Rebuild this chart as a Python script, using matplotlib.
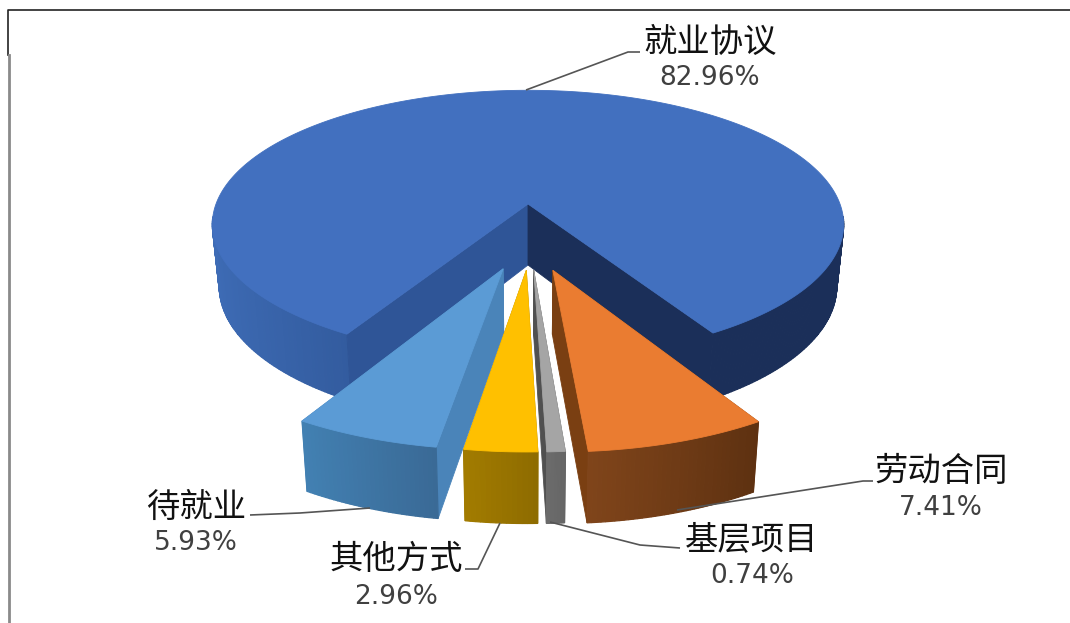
import numpy as np
import matplotlib
matplotlib.use("Agg")
import matplotlib.pyplot as plt
from matplotlib.colors import to_rgb
from matplotlib.patches import Polygon

categories = ["就业协议", "劳动合同", "基层项目", "其他方式", "待就业"]
shares = [82.96, 7.41, 0.74, 2.96, 5.93]

top_colors = ["#4270BF", "#EA7C31", "#A5A5A5", "#FFC000", "#5B9BD5"]
wall_left = ["#2F5597", "#7F441A", "#6B6B6B", "#A27B00", "#4280B2"]
wall_right = ["#1B2F59", "#5E3111", "#666666", "#8E6C00", "#3A6A96"]
inner_left = ["#2F5597", "#7A3F12", "#505050", "#A27B00", "#4A84B9"]
inner_right = ["#1B2F59", "#7A3F12", "#505050", "#A27B00", "#4A84B9"]
offset_u = [0.0, 0.074, 0.017, -0.005, -0.074]
offset_w = [0.0, 0.47, 0.47, 0.47, 0.46]
draw_order = [0, 4, 3, 2, 1]

label_pos = [(710, 42, 78), (941, 472, 508), (752, 540, 576), (396, 559, 597), (196, 507, 543)]
leaders = [
    [(526, 90), (628, 52), (640, 52)],
    [(677, 510), (863, 481), (873, 481)],
    [(550, 522), (640, 545), (680, 548)],
    [(500, 523), (478, 569), (465, 569)],
    [(370, 508), (300, 513), (250, 515)],
]

CX, CY = 528, 204
RX, F, K = 312, 131, 0.152
DEPTH, KD, XS = 61, 0.10, 0.978
START = 210.3

fig = plt.figure(figsize=(10.7, 6.23), dpi=100, facecolor="white")
ax = fig.add_axes([0, 0, 1, 1])
ax.set_xlim(0, 1070)
ax.set_ylim(623, 0)
ax.axis("off")


def top_pt(u, w):
    d = 1 - K * w
    return CX + RX * u / d, CY + F * w / d


def bot_pt(u, w):
    x, y = top_pt(u, w)
    return CX + (x - CX) * XS, y + DEPTH / (1 - KD * w)


def mix(a, b, t):
    a, b = np.array(to_rgb(a)), np.array(to_rgb(b))
    return tuple(a + (b - a) * t)


def poly(pts, color, z, lw=0.6):
    ax.add_patch(Polygon(pts, closed=True, facecolor=color, edgecolor=color, lw=lw, zorder=z))


edges = START + np.cumsum([0] + [s / sum(shares) * 360 for s in shares])
z = 1
for i in draw_order:
    a0, a1 = np.radians(edges[i]), np.radians(edges[i + 1])
    ou, ow = offset_u[i], offset_w[i]
    th = np.linspace(a0, a1, max(12, int(np.degrees(a1 - a0) * 1.5)))
    us = ou + np.sin(th)
    ws = ow - np.cos(th)
    tops = [top_pt(a, b) for a, b in zip(us, ws)]
    bots = [bot_pt(a, b) for a, b in zip(us, ws)]
    apex_t, apex_b = top_pt(ou, ow), bot_pt(ou, ow)

    if i == 0:
        # outer wall of the big slice: only the front part shows
        for j in range(len(th) - 1):
            if ws[j] < 0.1 and ws[j + 1] < 0.1:
                continue
            x = us[j]
            if x < 0:
                col = mix("#3E6CB6", "#335C9F", (x + 1) / 0.5)
            else:
                col = "#1B2F59"
            poly([tops[j], tops[j + 1], bots[j + 1], bots[j]], col, z, lw=0.9)
        z += 1
        poly([apex_t, tops[0], bots[0], apex_b], inner_left[i], z)
        poly([apex_t, tops[-1], bots[-1], apex_b], inner_right[i], z)
        z += 1
    else:
        poly([apex_t, tops[-1], bots[-1], apex_b], inner_right[i], z)
        poly([apex_t, tops[0], bots[0], apex_b], inner_left[i], z)
        z += 1
        # order of points runs clockwise, i.e. right to left along the front
        for j in range(len(th) - 1):
            t = 1 - j / (len(th) - 2)
            poly([tops[j], tops[j + 1], bots[j + 1], bots[j]],
                 mix(wall_left[i], wall_right[i], t), z, lw=0.9)
        z += 1
    poly([apex_t] + tops, top_colors[i], z)
    z += 1

cjk = ["Noto Sans CJK SC", "DejaVu Sans"]
for name, share, (x, y1, y2), pts in zip(categories, shares, label_pos, leaders):
    ax.text(x, y1, name, ha="center", va="center", fontsize=24, color="#111111",
            family=cjk, zorder=50)
    ax.text(x, y2, f"{share:.2f}%", ha="center", va="center", fontsize=19, color="#404040",
            family="DejaVu Sans", zorder=50)
    xs, ys = zip(*pts)
    ax.plot(xs, ys, color="#555555", lw=1.2, zorder=40, solid_capstyle="butt")

# image frame
ax.plot([8, 8, 1070], [55, 10, 10], color="#222222", lw=1.2, zorder=60)
ax.plot([8.5, 8.5], [55, 623], color="#8A8A8A", lw=2, zorder=60)

fig.savefig("out.png", dpi=100, facecolor="white")
